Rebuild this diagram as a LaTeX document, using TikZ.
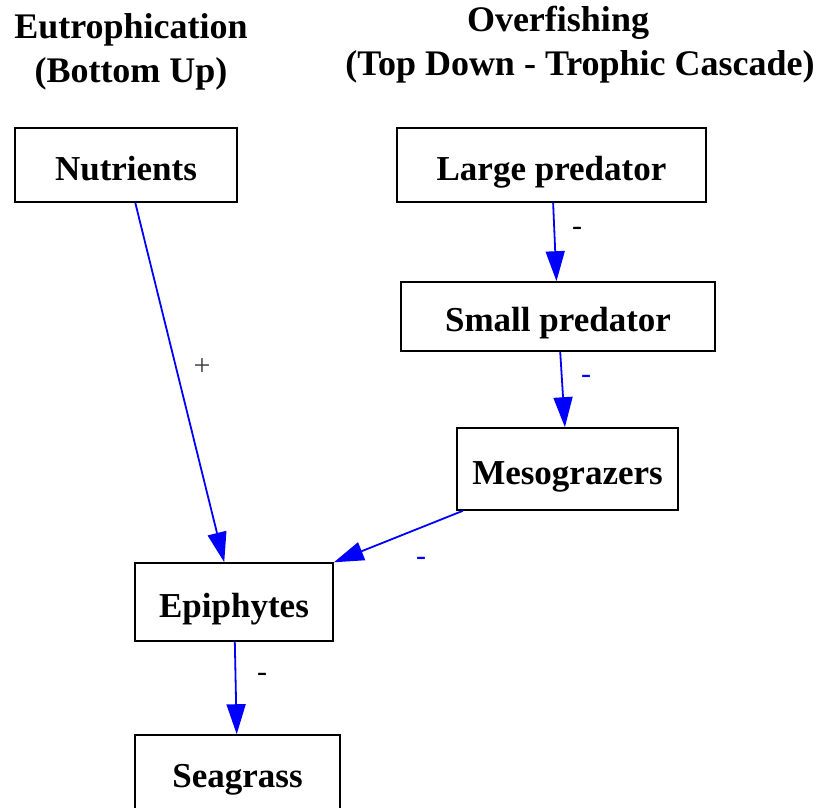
\documentclass[tikz,border=0pt]{standalone}
\usepackage{fontspec}
\setmainfont{Liberation Serif}
\usetikzlibrary{arrows.meta}

\tikzset{
  box/.style={draw, line width=1.6pt, inner sep=0pt, text height=30pt, text depth=0pt,
    font=\fontsize{35}{38}\selectfont\bfseries},
  title/.style={align=center, font=\fontsize{36}{44}\selectfont\bfseries},
  link/.style={draw=blue, line width=1.8pt, -{Triangle[length=30pt,width=19pt]}},
  sign/.style={font=\fontsize{30}{32}\selectfont}
}

\begin{document}
\begin{tikzpicture}[x=1pt,y=1pt]
      \useasboundingbox (0,0) rectangle (821,-807);
      % headings
      \node[title] (eutro) at (131,-52) {Eutrophication\\(Bottom Up)};
      \node[title] (overf) at (580,-45) {\hspace*{-44pt}Overfishing\\(Top Down - Trophic Cascade)};
      % boxes
      \node[box, minimum width=222pt, minimum height=74pt] (nutrients) at (126,-165) {Nutrients};
      \node[box, minimum width=309pt, minimum height=74pt] (large) at (551.5,-165) {Large predator};
      \node[box, minimum width=314pt, minimum height=69pt] (small) at (558,-316.5) {Small predator};
      \node[box, minimum width=221pt, minimum height=82pt] (meso) at (567.5,-469) {Mesograzers};
      \node[box, minimum width=198pt, minimum height=78pt] (epi) at (234,-602) {Epiphytes};
      \node[box, minimum width=205pt, minimum height=75pt] (sea) at (237.5,-772.5) {Seagrass};
      % links
      \draw[link] (nutrients) -- (epi);
      \draw[link] (large) -- (small);
      \draw[link] (small) -- (meso);
      \draw[link] (meso) -- (epi);
      \draw[link] (epi) -- (sea);
      % signs
      \node[sign, text=black!75] (s1) at (202,-367) {+};
      \node[sign] (s2) at (577,-231) {-};
      \node[sign, text=blue] (s3) at (586,-379) {-};
      \node[sign, text=blue] (s4) at (421,-561) {-};
      \node[sign] (s5) at (262,-677) {-};
    \end{tikzpicture}
\end{document}
